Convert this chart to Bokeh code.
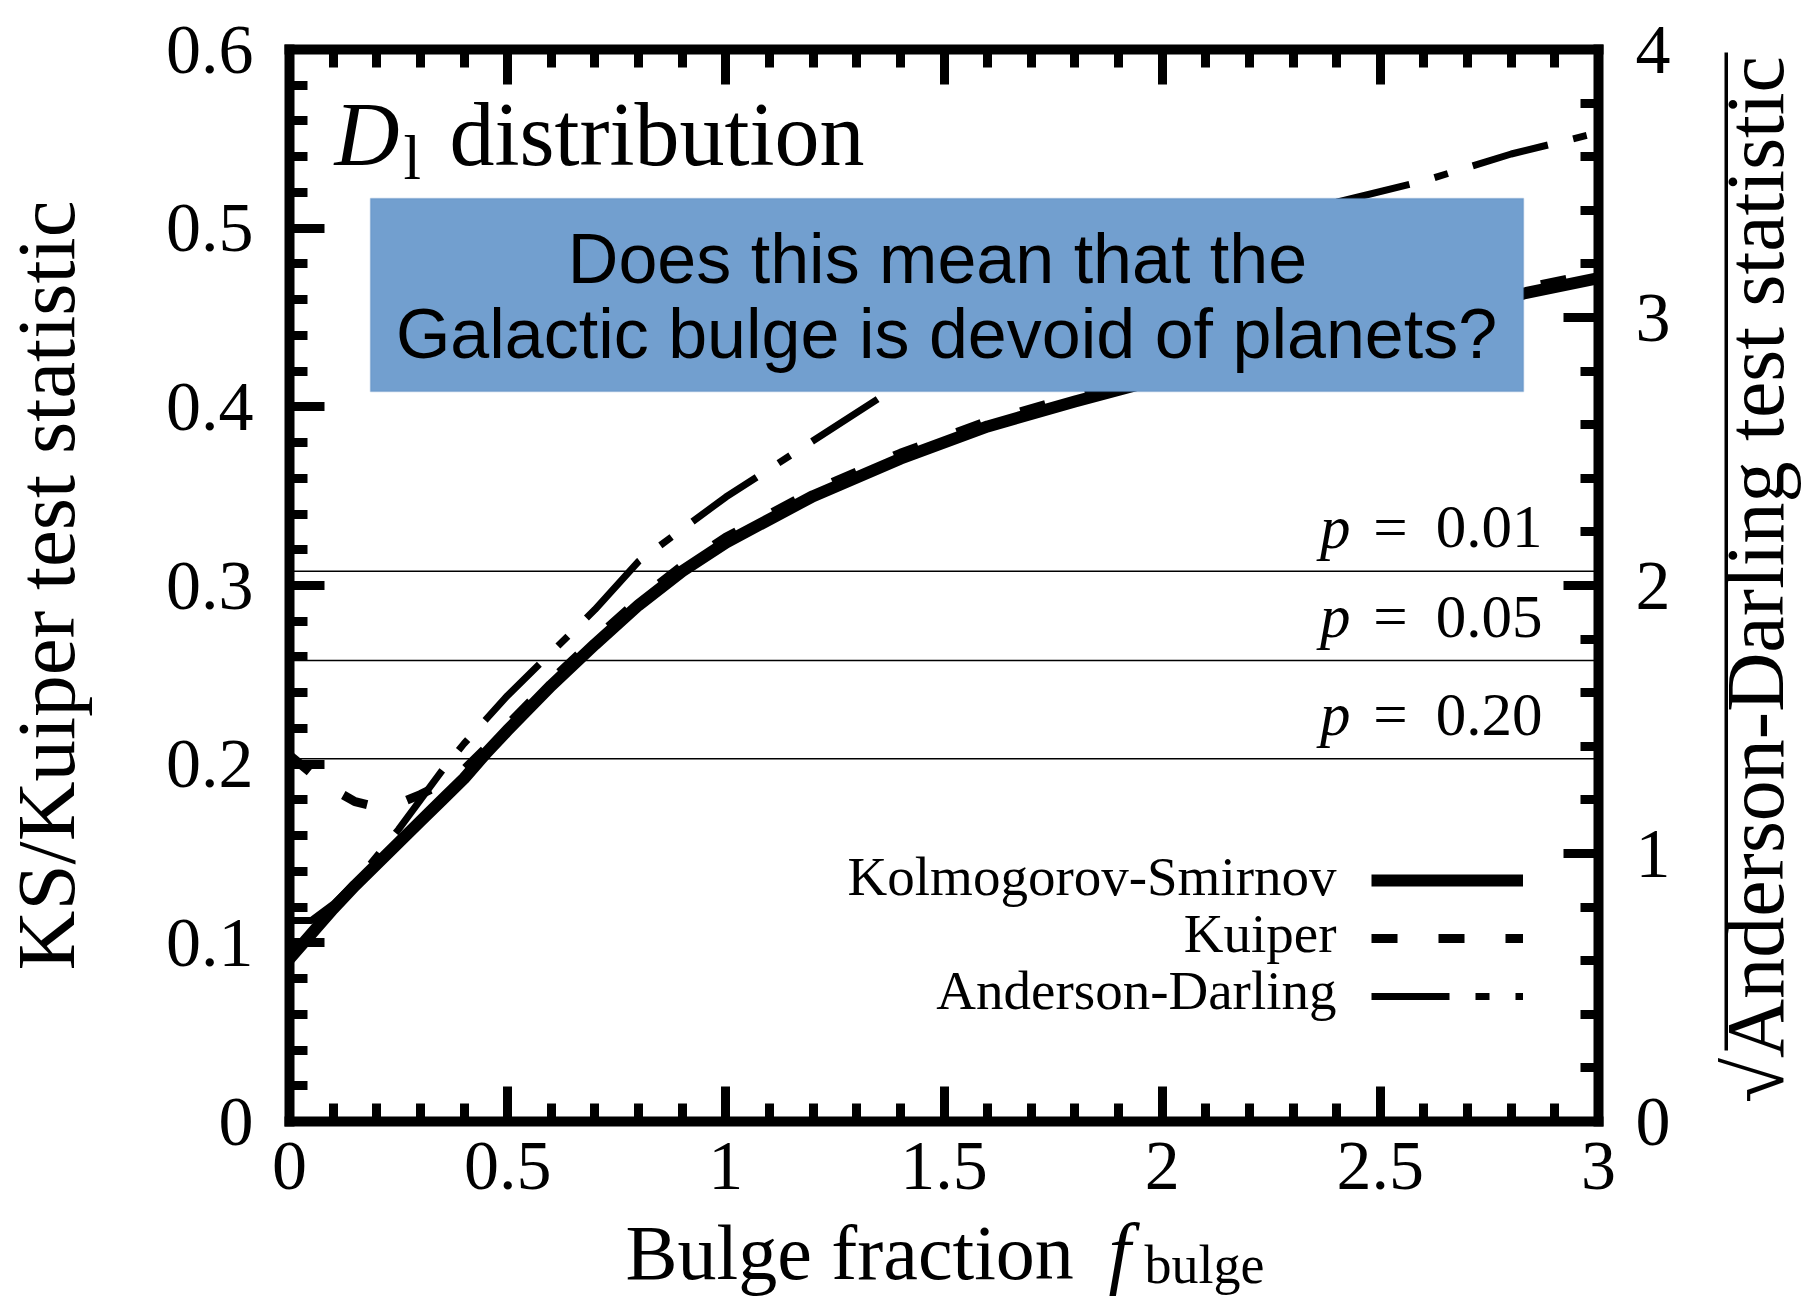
from math import pi

from bokeh.core.properties import value
from bokeh.embed import file_html
from bokeh.models import (BoxAnnotation, ColumnDataSource, CustomJSTickFormatter, Label,
                          Legend, LegendItem, LinearAxis, Range1d, SingleIntervalTicker)
from bokeh.plotting import figure
from bokeh.resources import INLINE

# ---------------------------------------------------------------- data
f_bulge = [0.0, 0.05, 0.1, 0.15, 0.2, 0.25, 0.3, 0.35, 0.4, 0.45, 0.5, 0.6, 0.7, 0.8, 0.9,
           1.0, 1.2, 1.4, 1.6, 1.8, 2.0, 2.2, 2.4, 2.6, 2.8, 3.0]
ks_stat = [0.091, 0.105, 0.119, 0.132, 0.144, 0.156, 0.168, 0.180, 0.192, 0.206, 0.219,
           0.244, 0.267, 0.289, 0.308, 0.324, 0.350, 0.371, 0.389, 0.403, 0.416, 0.429,
           0.441, 0.452, 0.462, 0.472]
kuiper_stat = [0.205, 0.195, 0.186, 0.179, 0.176, 0.178, 0.183, 0.189, 0.197, 0.209, 0.222,
               0.247, 0.270, 0.292, 0.311, 0.327, 0.353, 0.374, 0.392, 0.406, 0.419, 0.432,
               0.444, 0.455, 0.465, 0.475]
ad_sqrt_stat = [0.75, 0.75, 0.81, 0.89, 0.99, 1.09, 1.20, 1.31, 1.41, 1.50, 1.59, 1.75, 1.91,
                2.09, 2.21, 2.33, 2.54, 2.75, 2.93, 3.08, 3.21, 3.33, 3.43, 3.51, 3.61, 3.69]

p_levels = ["0.01", "0.05", "0.20"]
p_critical = [0.308, 0.258, 0.203]

series_names = ["Kolmogorov-Smirnov", "Kuiper", "Anderson-Darling"]

x_limits = (0.0, 3.0)
y_limits = (0.0, 0.6)
ad_limits = (0.0, 4.0)

# ---------------------------------------------------------------- layout (pixels)
W, H = 1806, 1298
BOX_L, BOX_R, BOX_T, BOX_B = 289, 1598, 49, 1121
SERIF = "Liberation Serif"
SANS = "Liberation Sans"
BASE_SHIFT = 0.36  # alphabetic anchor sits this many em above where the glyphs land


def sy(py):
    """Canvas row (from the top) to screen units (from the bottom)."""
    return H - py


def baseline(py, size):
    """Screen y that puts the text baseline on canvas row py."""
    return sy(py - BASE_SHIFT * size)


x_px = (BOX_R - BOX_L) / (x_limits[1] - x_limits[0])
y_px = (BOX_B - BOX_T) / (y_limits[1] - y_limits[0])
ad_px = (BOX_B - BOX_T) / (ad_limits[1] - ad_limits[0])

x_range = Range1d(x_limits[0] - BOX_L / x_px, x_limits[1] + (W - BOX_R) / x_px)
y_range = Range1d(y_limits[0] - (H - BOX_B) / y_px, y_limits[1] + BOX_T / y_px)
ad_range = Range1d(ad_limits[0] - (H - BOX_B) / ad_px, ad_limits[1] + BOX_T / ad_px)

p = figure(width=W, height=H, output_backend="svg", toolbar_location=None, title=None,
           x_range=x_range, y_range=y_range, x_axis_type=None, y_axis_type=None,
           min_border=0, min_border_left=0, min_border_right=0, min_border_top=0,
           min_border_bottom=0, outline_line_color=None,
           background_fill_color="white", border_fill_color="white")
p.extra_y_ranges = {"ad": ad_range}

plain_numbers = CustomJSTickFormatter(code="return (Math.round(tick * 100) / 100).toString();")
no_labels = CustomJSTickFormatter(code="return '';")


def frame_axis(**kw):
    ax = LinearAxis(**kw)
    ax.axis_line_width = 10
    ax.axis_line_cap = "square"
    ax.axis_line_color = "black"
    ax.major_tick_in = 35
    ax.major_tick_out = 0
    ax.minor_tick_in = 18
    ax.minor_tick_out = 0
    ax.major_tick_line_width = 9
    ax.minor_tick_line_width = 9
    ax.major_tick_line_color = "black"
    ax.minor_tick_line_color = "black"
    ax.major_label_text_font = SERIF
    ax.major_label_text_font_size = "70px"
    ax.major_label_text_color = "black"
    return ax


bottom_ax = frame_axis(ticker=SingleIntervalTicker(interval=0.5, num_minor_ticks=5),
                       formatter=plain_numbers, fixed_location=y_limits[0],
                       bounds=x_limits, major_label_standoff=21)
top_ax = frame_axis(ticker=SingleIntervalTicker(interval=0.5, num_minor_ticks=5),
                    formatter=no_labels, fixed_location=y_limits[1], bounds=x_limits)
left_ax = frame_axis(ticker=SingleIntervalTicker(interval=0.1, num_minor_ticks=5),
                     formatter=plain_numbers, fixed_location=x_limits[0],
                     bounds=(y_limits[0], y_limits[1] + 1e-7), major_label_standoff=36)
right_ax = frame_axis(y_range_name="ad", ticker=SingleIntervalTicker(interval=1, num_minor_ticks=5),
                      formatter=plain_numbers, fixed_location=x_limits[1],
                      bounds=ad_limits, major_label_standoff=37)
p.add_layout(bottom_ax, "below")
p.add_layout(top_ax, "above")
p.add_layout(left_ax, "left")
p.add_layout(right_ax, "right")

# ---------------------------------------------------------------- critical values
P_SIZE = 61
p_src = ColumnDataSource(dict(
    x0=[x_limits[0]] * len(p_critical), x1=[x_limits[1]] * len(p_critical),
    y=p_critical, level=p_levels, eq=["="] * len(p_critical), pp=["p"] * len(p_critical)))
p.segment(x0="x0", x1="x1", y0="y", y1="y", source=p_src, line_color="black", line_width=1.6)
p_text_style = dict(source=p_src, text_font=value(SERIF), text_font_size=value(f"{P_SIZE}px"),
                    text_color="black", text_baseline="alphabetic",
                    y_offset=-(22 + BASE_SHIFT * P_SIZE))
p.text(x="x1", y="y", text="level", text_align="right", x_offset=-56, **p_text_style)
p.text(x="x1", y="y", text="eq", text_align="center", x_offset=-208, **p_text_style)
p.text(x="x1", y="y", text="pp", text_align="right", x_offset=-248,
       text_font_style="italic", **p_text_style)

# ---------------------------------------------------------------- curves
ks_r = p.line(f_bulge, ks_stat, line_color="black", line_width=12, line_join="round")
kuiper_r = p.line(f_bulge, kuiper_stat, line_color="black", line_width=9,
                  line_dash="26 41", line_join="round")
ad_r = p.line(f_bulge, ad_sqrt_stat, y_range_name="ad", line_color="black", line_width=7,
              line_dash="78 26 14 26", line_join="round")

# legend: samples on the right, names drawn to their left
legend = Legend(items=[LegendItem(label="", renderers=[r]) for r in (ks_r, kuiper_r, ad_r)],
                location=(1371, sy(1025)), glyph_width=152, glyph_height=58,
                label_width=0, label_height=0, label_standoff=0, padding=0, spacing=0,
                margin=0, border_line_color=None, background_fill_alpha=0,
                label_text_font_size="1px")
p.add_layout(legend)
LEG_SIZE = 55
for name, base in zip(series_names, (896, 953, 1010)):
    p.add_layout(Label(x=1336, y=baseline(base, LEG_SIZE), x_units="screen", y_units="screen",
                       text=name, text_font=SERIF, text_font_size=f"{LEG_SIZE}px",
                       text_color="black", text_align="right", text_baseline="alphabetic"))

# ---------------------------------------------------------------- panel title
title_parts = [("D", 334, 166, 90, "italic"),
               ("l", 403, 180, 63, "normal"),
               ("distribution", 449, 166, 90, "normal")]
for txt, px, py, size, style in title_parts:
    p.add_layout(Label(x=px, y=baseline(py, size), x_units="screen", y_units="screen",
                       text=txt, text_font=SERIF, text_font_size=f"{size}px",
                       text_font_style=style, text_color="black",
                       text_align="left", text_baseline="alphabetic"))

# ---------------------------------------------------------------- question box
p.add_layout(BoxAnnotation(left=370, right=1523, top=sy(198), bottom=sy(391),
                           left_units="screen", right_units="screen",
                           top_units="screen", bottom_units="screen",
                           fill_color="#729fcf", fill_alpha=1.0,
                           line_color="#4a7ebb", line_width=1.5))
Q_SIZE = 70
for txt, px, py in [("Does this mean that the", 937, 284),
                    ("Galactic bulge is devoid of planets?", 946, 359)]:
    p.add_layout(Label(x=px, y=baseline(py, Q_SIZE), x_units="screen", y_units="screen",
                       text=txt, text_font=SANS, text_font_size=f"{Q_SIZE}px",
                       text_color="black", text_align="center", text_baseline="alphabetic"))

# ---------------------------------------------------------------- axis titles
YL_SIZE = 83
p.add_layout(Label(x=75 - BASE_SHIFT * YL_SIZE, y=sy(585), x_units="screen", y_units="screen",
                   text="KS/Kuiper test statistic", angle=pi / 2,
                   text_font=SERIF, text_font_size=f"{YL_SIZE}px", text_color="black",
                   text_align="center", text_baseline="alphabetic"))
YR_SIZE = 82
p.add_layout(Label(x=1785 - BASE_SHIFT * YR_SIZE, y=sy(579), x_units="screen",
                   y_units="screen", text="\u221aAnderson-Darling test statistic",
                   angle=pi / 2, text_font=SERIF, text_font_size=f"{YR_SIZE}px",
                   text_color="black", text_align="center", text_baseline="alphabetic"))
# vinculum of the square root
p.add_layout(BoxAnnotation(left=1724, right=1727.5, top=sy(52), bottom=sy(1050),
                           left_units="screen", right_units="screen",
                           top_units="screen", bottom_units="screen",
                           fill_color="black", fill_alpha=1.0, line_color=None))

xlabel_parts = [("Bulge fraction", 625, 1280, 78, "normal"),
                ("f", 1108, 1280, 80, "italic"),
                ("bulge", 1144, 1284, 54, "normal")]
for txt, px, py, size, style in xlabel_parts:
    p.add_layout(Label(x=px, y=baseline(py, size), x_units="screen", y_units="screen",
                       text=txt, text_font=SERIF, text_font_size=f"{size}px",
                       text_font_style=style, text_color="black",
                       text_align="left", text_baseline="alphabetic"))

open("out.html", "w").write(file_html(p, INLINE))
